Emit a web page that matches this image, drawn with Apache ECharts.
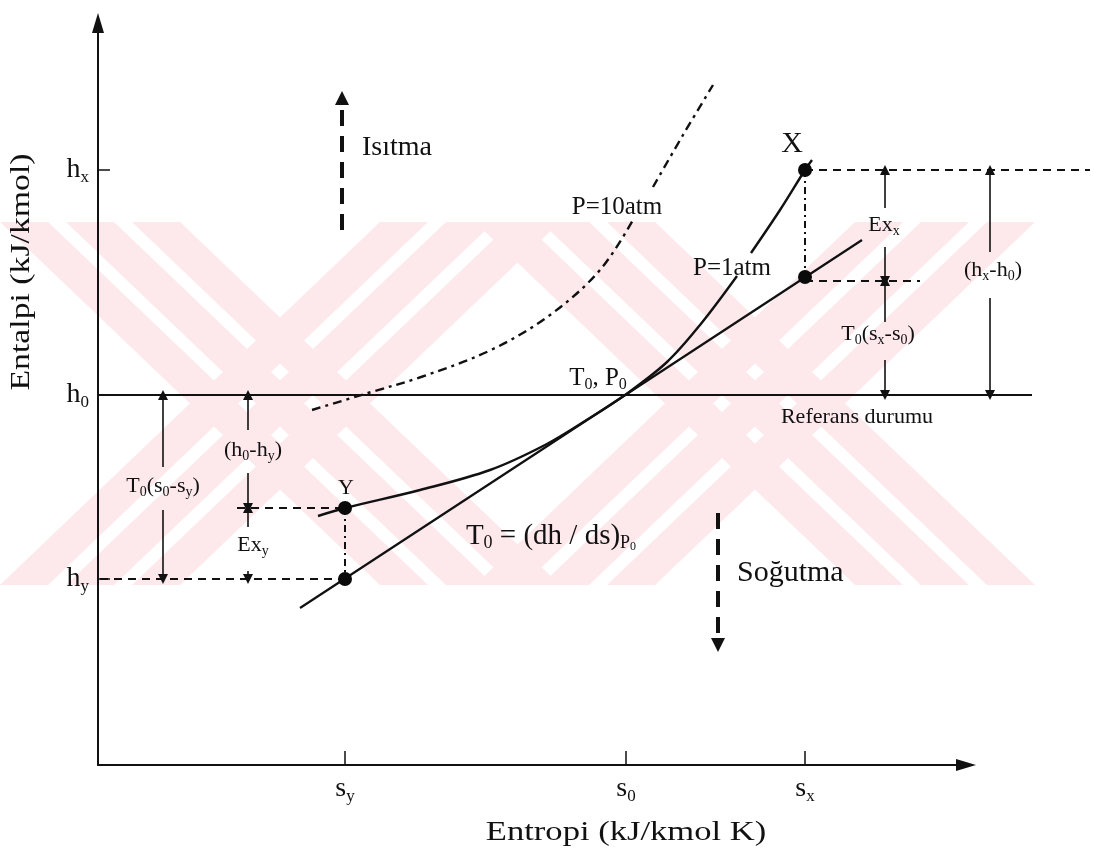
<!DOCTYPE html>
<html>
<head>
<meta charset="utf-8">
<script src="https://cdn.jsdelivr.net/npm/echarts@6/dist/echarts.min.js"></script>
<style>
html, body { margin: 0; background: #fff; }
#main { width: 1094px; height: 854px; }
</style>
</head>
<body>
<div id="main"></div>
<script>
var FONT = '"Liberation Serif", "Times New Roman", serif';
var INK = '#111';

// axis ticks (schematic units, no real scale on the diagram)
var sTicks = [247, 528, 707];
var sSubs = ['y', '0', 'x'];
var hTicks = [186, 370, 595];
var hSubs = ['y', '0', 'x'];

// P = 1 atm isobar, broken where its label sits
var p1Lower = [[220, 249], [247, 257], [322, 275], [392, 295], [447, 320], [487, 344], [527, 370], [569, 403], [602, 440], [639, 489]];
var p1Upper = [[653, 512], [682, 555], [707, 595], [714, 605]];
// P = 10 atm isobar (dash-dot)
var p10Lower = [[214, 355], [270, 372], [323, 388], [393, 415], [452, 450], [502, 495], [535, 545]];
var p10Upper = [[555, 578], [585, 630], [615, 680]];

// state points: X, X on tangent, Y, Y on tangent
var statePts = [[707, 595], [707, 488], [247, 257], [247, 186]];

// reference state line and tangent T0 = (dh/ds)
var solidLines = [[[0, 370], [934, 370]], [[202, 157], [764, 525]]];
var dashedLines = [[[707, 595], [992, 595]], [[707, 484], [822, 484]], [[139, 257], [247, 257]], [[2, 186], [247, 186]]];
var dashDotLines = [[[707, 595], [707, 488]], [[247, 257], [247, 186]]];

// dimension arrows: [from, to(head)]
var dimArrows = [
  [[787, 557], [787, 595]], [[787, 518], [787, 484]],
  [[787, 443], [787, 484]], [[787, 405], [787, 370]],
  [[892, 513], [892, 595]], [[892, 467], [892, 370]],
  [[65, 298], [65, 370]], [[65, 255], [65, 186]],
  [[150, 335], [150, 370]], [[150, 292], [150, 257]],
  [[150, 238], [150, 257]], [[150, 194], [150, 186]]
];
// Isitma / Sogutma dashed arrows
var bigArrows = [[[244, 535], [244, 667]], [[620, 252], [620, 120]]];

// text notes
var noteText = [
  '{m|X}', '{m|Y}', '{m|P=10atm}', '{m|P=1atm}', '{m|T}{s|0}{m|, P}{s|0}',
  '{m|Referans durumu}', '{m|Isıtma}', '{m|Soğutma}', '{m|Ex}{s|x}',
  '{m|T}{s|0}{m|(s}{s|x}{m|-s}{s|0}{m|)}', '{m|(h}{s|x}{m|-h}{s|0}{m|)}',
  '{m|T}{s|0}{m|(s}{s|0}{m|-s}{s|y}{m|)}', '{m|(h}{s|0}{m|-h}{s|y}{m|)}',
  '{m|Ex}{s|y}', '{m|T}{s|0}{m| = (dh / ds)}{s|P}{t|0}'
];
var noteX = [694, 248, 519, 634, 500, 759, 264, 639, 786, 780, 895, 65, 155, 155, 453];
var noteY = [621, 277, 558, 497, 387, 348, 617, 192, 540, 431, 495, 279, 315, 220, 229];
var noteSize = [30, 22, 25, 25, 25, 22, 28, 30, 22, 22, 22, 22, 22, 22, 29];
var noteAlign = ['center', 'center', 'center', 'center', 'center', 'center', 'left', 'left',
  'center', 'center', 'center', 'center', 'center', 'center', 'center'];

function makeRich(size) {
  var sub = Math.round(size * 0.62);
  return {
    m: { fontFamily: FONT, fontSize: size, lineHeight: size + 4, color: INK },
    s: { fontFamily: FONT, fontSize: sub, lineHeight: sub, verticalAlign: 'bottom', color: INK },
    t: { fontFamily: FONT, fontSize: Math.round(size * 0.42), lineHeight: Math.round(size * 0.3), verticalAlign: 'bottom', color: INK }
  };
}

function segs(list) {
  return list.map(function (p) { return { coords: p }; });
}

// faint striped watermark in the background
var WM = '#fde8ec';
function xMark(left, top, bottom, width) {
  var w = 48, g = 18, arm = 3 * w + 2 * g, run = width - arm, out = [];
  for (var i = 0; i < 3; i++) {
    var a = left + i * (w + g);
    out.push([[a, top], [a + w, top], [a + w + run, bottom], [a + run, bottom]]);
    var b = left + run + i * (w + g);
    out.push([[b, top], [b + w, top], [b + w - run, bottom], [b - run, bottom]]);
  }
  return out;
}
var wmPolys = xMark(0, 222, 585, 560).concat(xMark(475, 222, 585, 560));
var graphics = wmPolys.map(function (pts) {
  return { type: 'polygon', z: -10, silent: true, shape: { points: pts }, style: { fill: WM } };
});
graphics.push({
  type: 'text', x: 626, y: 833, z: 10, scaleX: 1.28,
  style: { text: 'Entropi (kJ/kmol K)', fontFamily: FONT, fontSize: 27, fill: INK, align: 'center', verticalAlign: 'middle' }
});
graphics.push({
  type: 'text', x: 22, y: 272, rotation: Math.PI / 2, z: 10, scaleX: 1.25,
  style: { text: 'Entalpi (kJ/kmol)', fontFamily: FONT, fontSize: 27, fill: INK, align: 'center', verticalAlign: 'middle' }
});

var myChart = echarts.init(document.getElementById('main'));
var option = {
  animation: false,
  backgroundColor: '#fff',
  graphic: graphics,
  grid: { left: 98, right: 128, top: 23, bottom: 89 },
  xAxis: {
    type: 'value', min: 0, max: 868,
    axisLine: { lineStyle: { color: INK, width: 2 }, symbol: ['none', 'triangle'], symbolSize: [12, 20] },
    axisTick: { show: true, inside: true, length: 14, customValues: sTicks, lineStyle: { color: INK, width: 1.5 } },
    axisLabel: {
      customValues: sTicks, margin: 8,
      formatter: function (v) { return '{m|s}{s|' + sSubs[sTicks.indexOf(v)] + '}'; },
      rich: makeRich(28)
    },
    splitLine: { show: false }
  },
  yAxis: {
    type: 'value', min: 0, max: 742,
    axisLine: { lineStyle: { color: INK, width: 2 }, symbol: ['none', 'triangle'], symbolSize: [12, 20] },
    axisTick: { show: true, inside: true, length: 12, customValues: hTicks, lineStyle: { color: INK, width: 1.5 } },
    axisLabel: {
      customValues: hTicks, margin: 9,
      formatter: function (v) { return '{m|h}{s|' + hSubs[hTicks.indexOf(v)] + '}'; },
      rich: makeRich(28)
    },
    splitLine: { show: false }
  },
  series: [
    {
      type: 'lines', coordinateSystem: 'cartesian2d', clip: false, silent: true,
      lineStyle: { color: INK, width: 2.2, opacity: 1 },
      data: segs(solidLines)
    },
    {
      type: 'lines', coordinateSystem: 'cartesian2d', clip: false, silent: true,
      lineStyle: { color: INK, width: 2, type: [8, 6], opacity: 1 },
      data: segs(dashedLines)
    },
    {
      type: 'lines', coordinateSystem: 'cartesian2d', clip: false, silent: true,
      lineStyle: { color: INK, width: 2, type: [7, 4, 2, 4], opacity: 1 },
      data: segs(dashDotLines)
    },
    {
      type: 'lines', coordinateSystem: 'cartesian2d', clip: false, silent: true,
      symbol: ['none', 'triangle'], symbolSize: 10,
      lineStyle: { color: INK, width: 1.6, opacity: 1 },
      data: segs(dimArrows)
    },
    {
      type: 'lines', coordinateSystem: 'cartesian2d', clip: false, silent: true,
      symbol: ['none', 'triangle'], symbolSize: 14,
      lineStyle: { color: INK, width: 4, type: [16, 10], opacity: 1 },
      data: segs(bigArrows)
    },
    {
      type: 'line', smooth: 0.35, showSymbol: false, clip: false, silent: true,
      lineStyle: { color: INK, width: 2.4 }, data: p1Lower
    },
    {
      type: 'line', smooth: 0.35, showSymbol: false, clip: false, silent: true,
      lineStyle: { color: INK, width: 2.4 }, data: p1Upper
    },
    {
      type: 'line', smooth: 0.35, showSymbol: false, clip: false, silent: true,
      lineStyle: { color: INK, width: 2.4, type: [9, 5, 3, 5] }, data: p10Lower
    },
    {
      type: 'line', smooth: 0.35, showSymbol: false, clip: false, silent: true,
      lineStyle: { color: INK, width: 2.4, type: [9, 5, 3, 5] }, data: p10Upper
    },
    {
      type: 'scatter', silent: true, symbolSize: 14, z: 5, clip: false,
      itemStyle: { color: '#0a0a0a', opacity: 1 },
      data: statePts
    },
    {
      type: 'scatter', silent: true, symbolSize: 0, z: 6, clip: false,
      itemStyle: { opacity: 1 },
      data: noteText.map(function (t, i) {
        return {
          value: [noteX[i], noteY[i]],
          label: {
            show: true, position: 'inside', align: noteAlign[i], verticalAlign: 'middle',
            color: INK, opacity: 1, textBorderWidth: 0, textBorderColor: 'transparent',
            formatter: t, rich: makeRich(noteSize[i])
          }
        };
      })
    }
  ]
};
myChart.setOption(option);
</script>
</body>
</html>
